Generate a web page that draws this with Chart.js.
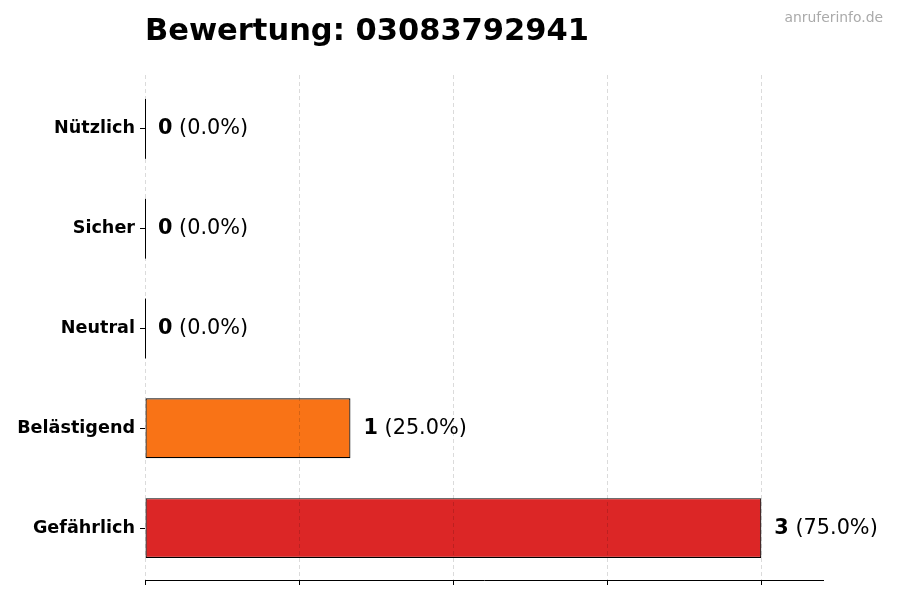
<!DOCTYPE html>
<html lang="de">
<head>
    <meta charset="UTF-8">
    <title>Bewertung: 03083792941</title>
    <script src="https://cdn.jsdelivr.net/npm/chart.js"></script>
    <style>
        body {
            margin: 0;
            background: #fff;
        }
        #wrap {
            width: 900px;
            height: 600px;
        }
    </style>
</head>
<body>
<div id="wrap"><canvas id="ratingChart" width="900" height="600"></canvas></div>

<script>
    const categories = ['Nützlich', 'Sicher', 'Neutral', 'Belästigend', 'Gefährlich'];
    const counts = [0, 0, 0, 1, 3];
    const barColors = ['#22c55e', '#3b82f6', '#9ca3af', '#f97316', '#dc2626'];
    const xTicks = [0, 0.75, 1.5, 2.25, 3];
    const xMax = 3.3;
    const titleText = 'Bewertung: 03083792941';
    const watermark = 'anruferinfo.de';

    const total = counts.reduce((a, b) => a + b, 0);
    const font = '"DejaVu Sans", "Liberation Sans", sans-serif';

    // bars sit at integer positions on a linear index axis, with a small margin like the original
    const points = counts.map((v, i) => ({ x: v, y: i }));
    const yMin = -0.54;
    const yMax = categories.length - 1 + 0.52;

    const extrasPlugin = {
        id: 'extras',
        afterDraw(chart) {
            const ctx = chart.ctx;
            ctx.save();
            ctx.fillStyle = '#000';
            ctx.textAlign = 'left';
            ctx.textBaseline = 'alphabetic';
            ctx.font = 'bold 30.5px ' + font;
            ctx.fillText(titleText, 145, 40);

            ctx.fillStyle = '#aaaaaa';
            ctx.textAlign = 'right';
            ctx.font = '13.9px ' + font;
            ctx.fillText(watermark, 883, 22);
            ctx.restore();
        },
        afterDatasetsDraw(chart) {
            const ctx = chart.ctx;
            const meta = chart.getDatasetMeta(0);
            ctx.save();
            meta.data.forEach((el, i) => {
                // zero-width bars still show their edge
                if (counts[i] === 0) {
                    ctx.strokeStyle = '#000';
                    ctx.lineWidth = 1;
                    ctx.beginPath();
                    ctx.moveTo(el.base + 0.5, el.y - el.height / 2);
                    ctx.lineTo(el.base + 0.5, el.y + el.height / 2);
                    ctx.stroke();
                }
                let x = el.x + 13;
                const pct = total ? (counts[i] / total * 100).toFixed(1) : '0.0';
                ctx.fillStyle = '#000';
                ctx.textAlign = 'left';
                ctx.textBaseline = 'middle';
                ctx.font = 'bold 20.8px ' + font;
                const num = String(counts[i]);
                ctx.fillText(num, x, el.y);
                x += ctx.measureText(num).width;
                ctx.font = '20.8px ' + font;
                ctx.fillText(' (' + pct + '%)', x, el.y);
            });
            ctx.restore();
        }
    };

    new Chart(document.getElementById('ratingChart'), {
        type: 'bar',
        data: {
            datasets: [{
                data: points,
                backgroundColor: barColors,
                borderColor: '#000',
                borderWidth: 1.2,
                borderSkipped: false,
                barPercentage: 0.6,
                categoryPercentage: 1
            }]
        },
        options: {
            indexAxis: 'y',
            responsive: false,
            animation: false,
            devicePixelRatio: 1,
            layout: {
                padding: { top: 75, right: 77, bottom: 0, left: 0 }
            },
            plugins: {
                legend: { display: false },
                title: { display: false },
                tooltip: { enabled: false }
            },
            scales: {
                x: {
                    type: 'linear',
                    position: 'bottom',
                    min: 0,
                    max: xMax,
                    afterBuildTicks(scale) {
                        scale.ticks = xTicks.map(v => ({ value: v }));
                    },
                    afterFit(scale) {
                        scale.height = 20;
                    },
                    ticks: { display: false },
                    grid: {
                        z: 1,
                        color: 'rgba(0,0,0,0.14)',
                        drawTicks: true,
                        tickLength: 5,
                        tickColor: '#000',
                        tickWidth: 1
                    },
                    border: {
                        display: true,
                        z: 1,
                        color: '#000',
                        width: 1,
                        dash: [4, 3]
                    }
                },
                y: {
                    type: 'linear',
                    position: 'left',
                    reverse: true,
                    offset: false,
                    min: yMin,
                    max: yMax,
                    afterBuildTicks(scale) {
                        scale.ticks = categories.map((c, i) => ({ value: i }));
                    },
                    afterFit(scale) {
                        scale.width = 145;
                    },
                    ticks: {
                        color: '#000',
                        padding: 5,
                        font: { family: font, size: 17.6, weight: 'bold' },
                        callback: (value) => categories[value]
                    },
                    grid: {
                        offset: false,
                        drawOnChartArea: false,
                        drawTicks: true,
                        tickLength: 5,
                        tickColor: '#000',
                        tickWidth: 1
                    },
                    border: { display: false }
                }
            }
        },
        plugins: [extrasPlugin]
    });
</script>
</body>
</html>
